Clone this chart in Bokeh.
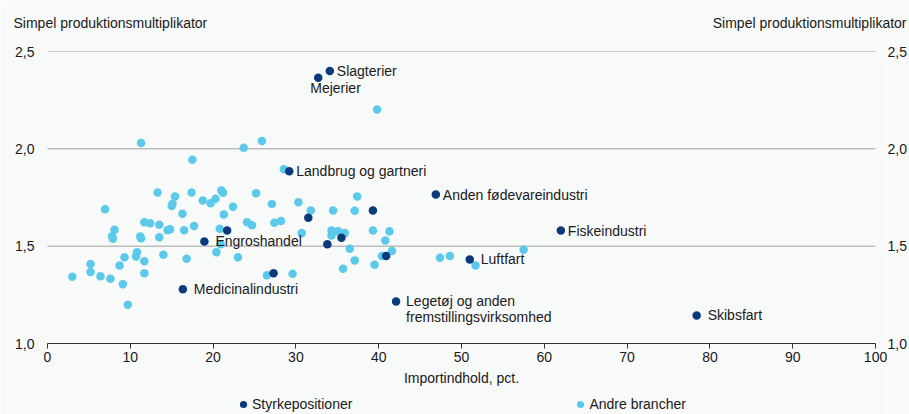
from bokeh.plotting import figure
from bokeh.models import (Range1d, LinearAxis, FixedTicker, CustomJSTickFormatter,
                          Label, Legend, LegendItem, ColumnDataSource)
from bokeh.core.properties import value
from bokeh.embed import file_html
from bokeh.resources import INLINE

# ---------------- data ----------------
# Styrkepositioner (dark)
strong_x = [34.1, 32.7, 29.2, 46.9, 62.0, 51.0, 42.1, 78.4, 16.35, 18.95,
            21.7, 27.3, 31.5, 39.3, 35.5, 33.8, 40.9]
strong_y = [2.40, 2.365, 1.885, 1.765, 1.58, 1.432, 1.216, 1.144, 1.279, 1.524,
            1.58, 1.361, 1.646, 1.683, 1.543, 1.51, 1.449]
strong_names = ["Slagterier", "Mejerier", "Landbrug og gartneri", "Anden fødevareindustri",
                "Fiskeindustri", "Luftfart", "Legetøj og anden\nfremstillingsvirksomhed",
                "Skibsfart", "Medicinalindustri", "Engroshandel",
                "", "", "", "", "", "", ""]

# Andre brancher (light)
other_x = [11.3, 23.7, 25.9, 17.5, 28.55, 13.3, 15.4, 17.4, 21.0, 21.2,
           25.2, 18.75, 19.7, 20.3, 15.1, 15.0, 22.4, 27.1, 30.3, 6.95,
           16.3, 21.3, 24.1, 24.7, 27.4, 28.2, 11.7, 12.4, 13.5, 14.5,
           14.8, 16.5, 17.7, 20.8, 8.1, 7.8, 7.9, 11.2, 11.3, 13.5,
           30.7, 10.8, 10.7, 9.3, 11.7, 14.0, 16.8, 20.4, 20.9, 23.0,
           5.2, 8.7, 3.0, 5.2, 6.4, 7.6, 9.1, 11.7, 9.7, 26.5,
           29.6, 31.8, 34.5, 37.4, 37.1, 34.3, 34.3, 35.1, 35.9, 39.3,
           41.3, 40.8, 36.5, 41.6, 40.4, 37.1, 39.5, 35.7, 47.4, 48.6,
           51.7, 57.5, 39.8]
other_y = [2.03, 2.005, 2.04, 1.944, 1.895, 1.776, 1.755, 1.776, 1.786, 1.774,
           1.772, 1.735, 1.721, 1.743, 1.718, 1.706, 1.702, 1.716, 1.726, 1.69,
           1.666, 1.663, 1.623, 1.608, 1.62, 1.629, 1.623, 1.618, 1.61, 1.582,
           1.587, 1.582, 1.603, 1.589, 1.584, 1.551, 1.538, 1.55, 1.541, 1.546,
           1.567, 1.469, 1.447, 1.443, 1.423, 1.456, 1.435, 1.469, 1.51, 1.443,
           1.408, 1.401, 1.343, 1.367, 1.346, 1.333, 1.305, 1.361, 1.199, 1.351,
           1.358, 1.683, 1.683, 1.755, 1.682, 1.581, 1.555, 1.576, 1.567, 1.581,
           1.576, 1.529, 1.487, 1.475, 1.449, 1.427, 1.404, 1.384, 1.44, 1.449,
           1.401, 1.482, 2.202]

y_ticks = [1.0, 1.5, 2.0, 2.5]
x_ticks = [0, 10, 20, 30, 40, 50, 60, 70, 80, 90, 100]
y_title = "Simpel produktionsmultiplikator"
x_title = "Importindhold, pct."
series_names = ["Styrkepositioner", "Andre brancher"]

# ---------------- style / geometry ----------------
BG = "#f8f9f9"
DARK = "#0b3a7b"
LIGHT = "#5bcaea"
GRID = "#a0a0a0"
FONT = "Liberation Sans"
FS = "14px"
TXT = "#1a1a1a"

W, H = 909, 414
TOP, AXIS_Y = 51, 343          # pixel rows of the top and bottom y ticks
X0_PX, X1_PX = 47, 877         # pixel columns of the first and last x ticks
FL, FR = 36, 889               # frame edges (wide enough for the end tick labels)

x_min, x_max = x_ticks[0], x_ticks[-1]
y_min, y_max = y_ticks[0], y_ticks[-1]
xpp = (x_max - x_min) / (X1_PX - X0_PX)
ypp = (y_max - y_min) / (AXIS_Y - TOP)
x_lo = x_min - (X0_PX - FL) * xpp
x_hi = x_max + (FR - X1_PX) * xpp
y_lo = y_min - (H - AXIS_Y) * ypp   # frame runs to the canvas bottom (legend inside it)

p = figure(width=W, height=H, x_range=Range1d(x_lo, x_hi), y_range=Range1d(y_lo, y_max),
           output_backend="svg", toolbar_location=None,
           min_border_left=FL, min_border_right=W - FR, min_border_top=TOP, min_border_bottom=0,
           background_fill_color=BG, border_fill_color=BG, outline_line_color=None)

fmt = CustomJSTickFormatter(code="return tick.toFixed(1).replace('.', ',');")

# x axis, drawn at y = 1.0
xa = p.xaxis[0]
xa.fixed_location = y_min
xa.bounds = (x_min, x_max)
xa.ticker = FixedTicker(ticks=x_ticks)
xa.axis_line_color = "#333333"
xa.major_tick_line_color = "#333333"
xa.major_tick_out = 5
xa.major_tick_in = 0
xa.minor_tick_line_color = None
xa.major_label_standoff = 3
xa.major_label_text_font = FONT
xa.major_label_text_font_size = FS
xa.major_label_text_color = TXT
xa.axis_label = x_title
xa.axis_label_text_font = FONT
xa.axis_label_text_font_size = FS
xa.axis_label_text_font_style = "normal"
xa.axis_label_text_color = TXT
xa.axis_label_standoff = 5

# y axes (left and right)
ya = p.yaxis[0]
yr = LinearAxis()
p.add_layout(yr, "right")
for ax, standoff in [(ya, 2), (yr, 0)]:
    ax.ticker = FixedTicker(ticks=y_ticks)
    ax.formatter = fmt
    ax.axis_line_color = None
    ax.major_tick_line_color = None
    ax.minor_tick_line_color = None
    ax.major_tick_out = 0
    ax.major_tick_in = 0
    ax.major_label_standoff = standoff
    ax.major_label_text_font = FONT
    ax.major_label_text_font_size = FS
    ax.major_label_text_color = TXT

# horizontal grid lines spanning the x axis extent only
p.xgrid.grid_line_color = None
p.ygrid.grid_line_color = None
gy = y_ticks[1:]
p.segment(x0=[x_min] * len(gy), x1=[x_max] * len(gy), y0=gy, y1=gy,
          line_color=GRID, line_width=1)

# points
r_other = p.scatter(other_x, other_y, size=8.5, fill_color=LIGHT, line_color=None)
r_strong = p.scatter(strong_x, strong_y, size=8.5, fill_color=DARK, line_color=None)

# point labels
near = {"Slagterier", "Landbrug og gartneri", "Anden fødevareindustri", "Fiskeindustri"}
far = {"Luftfart", "Skibsfart", "Medicinalindustri", "Engroshandel"}
for group, off in [(near, 7), (far, 11)]:
    idx = [i for i, n in enumerate(strong_names) if n in group]
    src = ColumnDataSource(dict(x=[strong_x[i] for i in idx], y=[strong_y[i] for i in idx],
                                t=[strong_names[i] for i in idx]))
    p.text(x="x", y="y", text="t", source=src, x_offset=off, y_offset=0,
           text_font=value(FONT), text_font_size=FS, text_color=TXT,
           text_baseline="middle", text_align="left")

i_mej = strong_names.index("Mejerier")
p.text(x=[strong_x[i_mej]], y=[strong_y[i_mej]], text=[strong_names[i_mej]],
       x_offset=-8, y_offset=10, text_font=value(FONT), text_font_size=FS,
       text_color=TXT, text_baseline="middle", text_align="left")

i_leg = [i for i, n in enumerate(strong_names) if n.startswith("Legetøj")][0]
p.text(x=[strong_x[i_leg]], y=[strong_y[i_leg]], text=[strong_names[i_leg]],
       x_offset=10, y_offset=-8, text_font=value(FONT), text_font_size=FS,
       text_color=TXT, text_baseline="top", text_align="left", text_line_height=1.0)

# y titles (in the top side panel, so they are not clipped by the frame)
p.add_layout(Label(x=13 - FL, y=29, x_units="screen", y_units="screen", text=y_title,
                   text_font=FONT, text_font_size=FS, text_color=TXT,
                   text_baseline="middle", text_align="left"), "above")
p.add_layout(Label(x=906 - FL, y=13, x_units="screen", y_units="screen", text=y_title,
                   text_font=FONT, text_font_size=FS, text_color=TXT,
                   text_baseline="middle", text_align="right"), "above")

# legend, inside the (extended) frame below the axis
legend = Legend(items=[LegendItem(label=series_names[0], renderers=[r_strong]),
                       LegendItem(label=series_names[1], renderers=[r_other])],
                orientation="horizontal", location=(234 - FL, 0),
                spacing=219, padding=0, margin=0,
                glyph_width=18, glyph_height=20, label_standoff=0, label_height=14,
                label_text_font=FONT, label_text_font_size=FS, label_text_color=TXT,
                background_fill_alpha=0, border_line_color=None)
p.add_layout(legend)

html = file_html(p, INLINE)
html = html.replace("<body>", '<body style="background:%s">' % BG, 1)
open("out.html", "w").write(html)
